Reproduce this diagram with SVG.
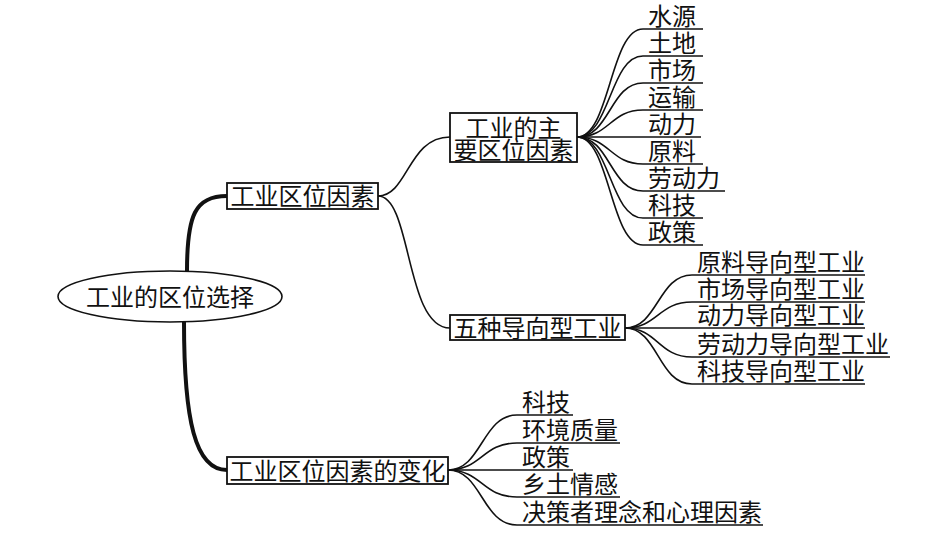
<svg xmlns="http://www.w3.org/2000/svg" width="950" height="535" viewBox="0 0 950 535">
<style>
text{font-family:"Noto Sans CJK SC","Noto Sans CJK JP",sans-serif;font-size:24px;fill:#111}
.c{text-anchor:middle}
.box{fill:#fff;stroke:#111;stroke-width:1.8}
.thin{fill:none;stroke:#111;stroke-width:1.6}
.thick{fill:none;stroke:#111;stroke-width:4}
.ul{stroke:#111;stroke-width:1.6}
</style>
<rect width="950" height="535" fill="#fff"/>
<g id="connectors">
<path class="thick" d="M187,271 C187,215 195,196 227,196"/>
<path class="thick" d="M184,322 C184,420 195,470 227,470"/>
<path class="thin" d="M378,196 C408,196 408,137 450,137"/>
<path class="thin" d="M378,196 C412,196 405,328 450,328"/>
<path class="thin" d="M577,137 C610,137 610,29 643,29"/>
<path class="thin" d="M577,137 C610,137 610,56 643,56"/>
<path class="thin" d="M577,137 C610,137 610,83 643,83"/>
<path class="thin" d="M577,137 C610,137 610,110 643,110"/>
<path class="thin" d="M577,137 L643,137"/>
<path class="thin" d="M577,137 C610,137 610,164 643,164"/>
<path class="thin" d="M577,137 C610,137 610,191 643,191"/>
<path class="thin" d="M577,137 C610,137 610,218 643,218"/>
<path class="thin" d="M577,137 C610,137 610,245 643,245"/>
<path class="thin" d="M625,328 C658,328 658,275 692,275"/>
<path class="thin" d="M625,328 C658,328 658,302 692,302"/>
<path class="thin" d="M625,328 L692,328"/>
<path class="thin" d="M625,328 C658,328 658,357 692,357"/>
<path class="thin" d="M625,328 C658,328 658,384 692,384"/>
<path class="thin" d="M448,470 C482,470 482,415 517,415"/>
<path class="thin" d="M448,470 C482,470 482,443 517,443"/>
<path class="thin" d="M448,470 L517,470"/>
<path class="thin" d="M448,470 C482,470 482,497 517,497"/>
<path class="thin" d="M448,470 C482,470 482,525 517,525"/>
</g>
<g id="root">
<ellipse cx="170" cy="296.5" rx="112" ry="25.5" fill="#fff" stroke="#111" stroke-width="1.6"/>
<text class="c" x="170" y="305.5">工业的区位选择</text>
</g>
<g id="n-factors">
<rect class="box" x="227" y="183" width="151" height="26"/>
<text class="c" x="302.5" y="205">工业区位因素</text>
</g>
<g id="n-change">
<rect class="box" x="227" y="457" width="221" height="27"/>
<text class="c" x="337.5" y="479.5">工业区位因素的变化</text>
</g>
<g id="n-main">
<rect class="box" x="450" y="113" width="127" height="49"/>
<text class="c" x="513.5" y="137">工业的主</text>
<text class="c" x="513.5" y="159">要区位因素</text>
</g>
<g id="n-five">
<rect class="box" x="450" y="315" width="175" height="25"/>
<text class="c" x="537.5" y="336.5">五种导向型工业</text>
</g>
<g id="leaf-main">
<line class="ul" x1="643" y1="29" x2="703" y2="29"/><text x="648" y="25">水源</text>
<line class="ul" x1="643" y1="56" x2="703" y2="56"/><text x="648" y="52">土地</text>
<line class="ul" x1="643" y1="83" x2="703" y2="83"/><text x="648" y="79">市场</text>
<line class="ul" x1="643" y1="110" x2="703" y2="110"/><text x="648" y="106">运输</text>
<line class="ul" x1="643" y1="137" x2="701" y2="137"/><text x="648" y="133">动力</text>
<line class="ul" x1="643" y1="164" x2="703" y2="164"/><text x="648" y="160">原料</text>
<line class="ul" x1="643" y1="191" x2="725" y2="191"/><text x="648" y="187">劳动力</text>
<line class="ul" x1="643" y1="218" x2="703" y2="218"/><text x="648" y="214">科技</text>
<line class="ul" x1="643" y1="245" x2="703" y2="245"/><text x="648" y="241">政策</text>
</g>
<g id="leaf-five">
<line class="ul" x1="692" y1="275" x2="865" y2="275"/><text x="697" y="271">原料导向型工业</text>
<line class="ul" x1="692" y1="302" x2="865" y2="302"/><text x="697" y="298">市场导向型工业</text>
<line class="ul" x1="692" y1="328" x2="865" y2="328"/><text x="697" y="324">动力导向型工业</text>
<line class="ul" x1="692" y1="357" x2="890" y2="357"/><text x="697" y="353">劳动力导向型工业</text>
<line class="ul" x1="692" y1="384" x2="865" y2="384"/><text x="697" y="380">科技导向型工业</text>
</g>
<g id="leaf-change">
<line class="ul" x1="517" y1="415" x2="573" y2="415"/><text x="522" y="411">科技</text>
<line class="ul" x1="517" y1="443" x2="620" y2="443"/><text x="522" y="439">环境质量</text>
<line class="ul" x1="517" y1="470" x2="573" y2="470"/><text x="522" y="466">政策</text>
<line class="ul" x1="517" y1="497" x2="620" y2="497"/><text x="522" y="493">乡土情感</text>
<line class="ul" x1="517" y1="525" x2="763" y2="525"/><text x="522" y="521">决策者理念和心理因素</text>
</g>
</svg>
